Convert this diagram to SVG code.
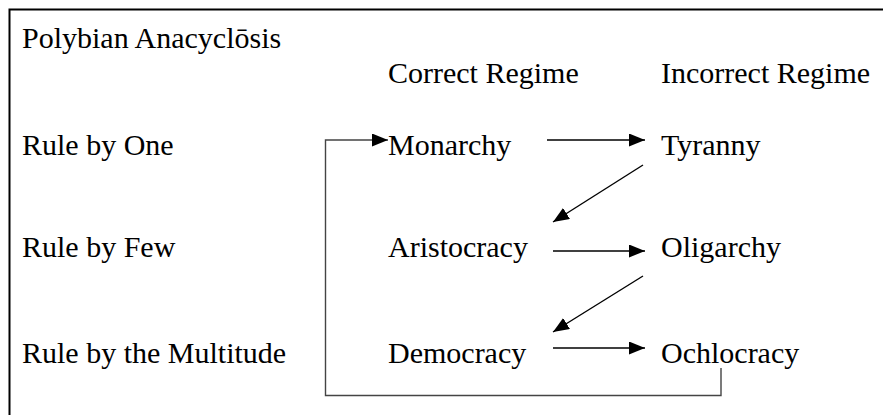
<svg xmlns="http://www.w3.org/2000/svg" width="883" height="415" viewBox="0 0 883 415">
<style>
.t{font-family:'Liberation Serif','Times New Roman',serif;font-size:30px;fill:#000}
.ln{stroke:#000;stroke-width:1.4;fill:none}
.lp{stroke:#444;stroke-width:1.4;fill:none}
</style>
<defs>
<marker id="ah" markerWidth="16" markerHeight="13" refX="16" refY="6.5" orient="auto" markerUnits="userSpaceOnUse">
<path d="M0,0 L16,6.5 L0,13 Z" fill="#000"/>
</marker>
</defs>
<rect width="883" height="415" fill="#fff"/>
<path d="M9.5,415 V9.5 H883" stroke="#000" stroke-width="2" fill="none"/>
<g class="t">
<g id="title"><text x="22" y="48">Polybian Anacyclōsis</text></g>
<g id="hdr-correct"><text x="388" y="83">Correct Regime</text></g>
<g id="hdr-incorrect"><text x="661" y="83">Incorrect Regime</text></g>
<g id="row-one"><text x="22" y="155">Rule by One</text></g>
<g id="row-few"><text x="22" y="257">Rule by Few</text></g>
<g id="row-multitude"><text x="22" y="363">Rule by the Multitude</text></g>
<g id="monarchy"><text x="388" y="155">Monarchy</text></g>
<g id="tyranny"><text x="661" y="155">Tyranny</text></g>
<g id="aristocracy"><text x="388" y="257">Aristocracy</text></g>
<g id="oligarchy"><text x="661" y="257">Oligarchy</text></g>
<g id="democracy"><text x="388" y="363">Democracy</text></g>
<g id="ochlocracy"><text x="661" y="363">Ochlocracy</text></g>
</g>
<g id="connectors">
<line class="ln" x1="547" y1="140" x2="645" y2="140" marker-end="url(#ah)"/>
<line class="ln" x1="643" y1="165" x2="553" y2="222" marker-end="url(#ah)"/>
<line class="ln" x1="553" y1="251" x2="645" y2="251" marker-end="url(#ah)"/>
<line class="ln" x1="643" y1="276" x2="553" y2="332" marker-end="url(#ah)"/>
<line class="ln" x1="553" y1="348" x2="645" y2="348" marker-end="url(#ah)"/>
<path class="lp" d="M721,368 V395.5 H325.5 V140 H388" marker-end="url(#ah)"/>
</g>
</svg>
